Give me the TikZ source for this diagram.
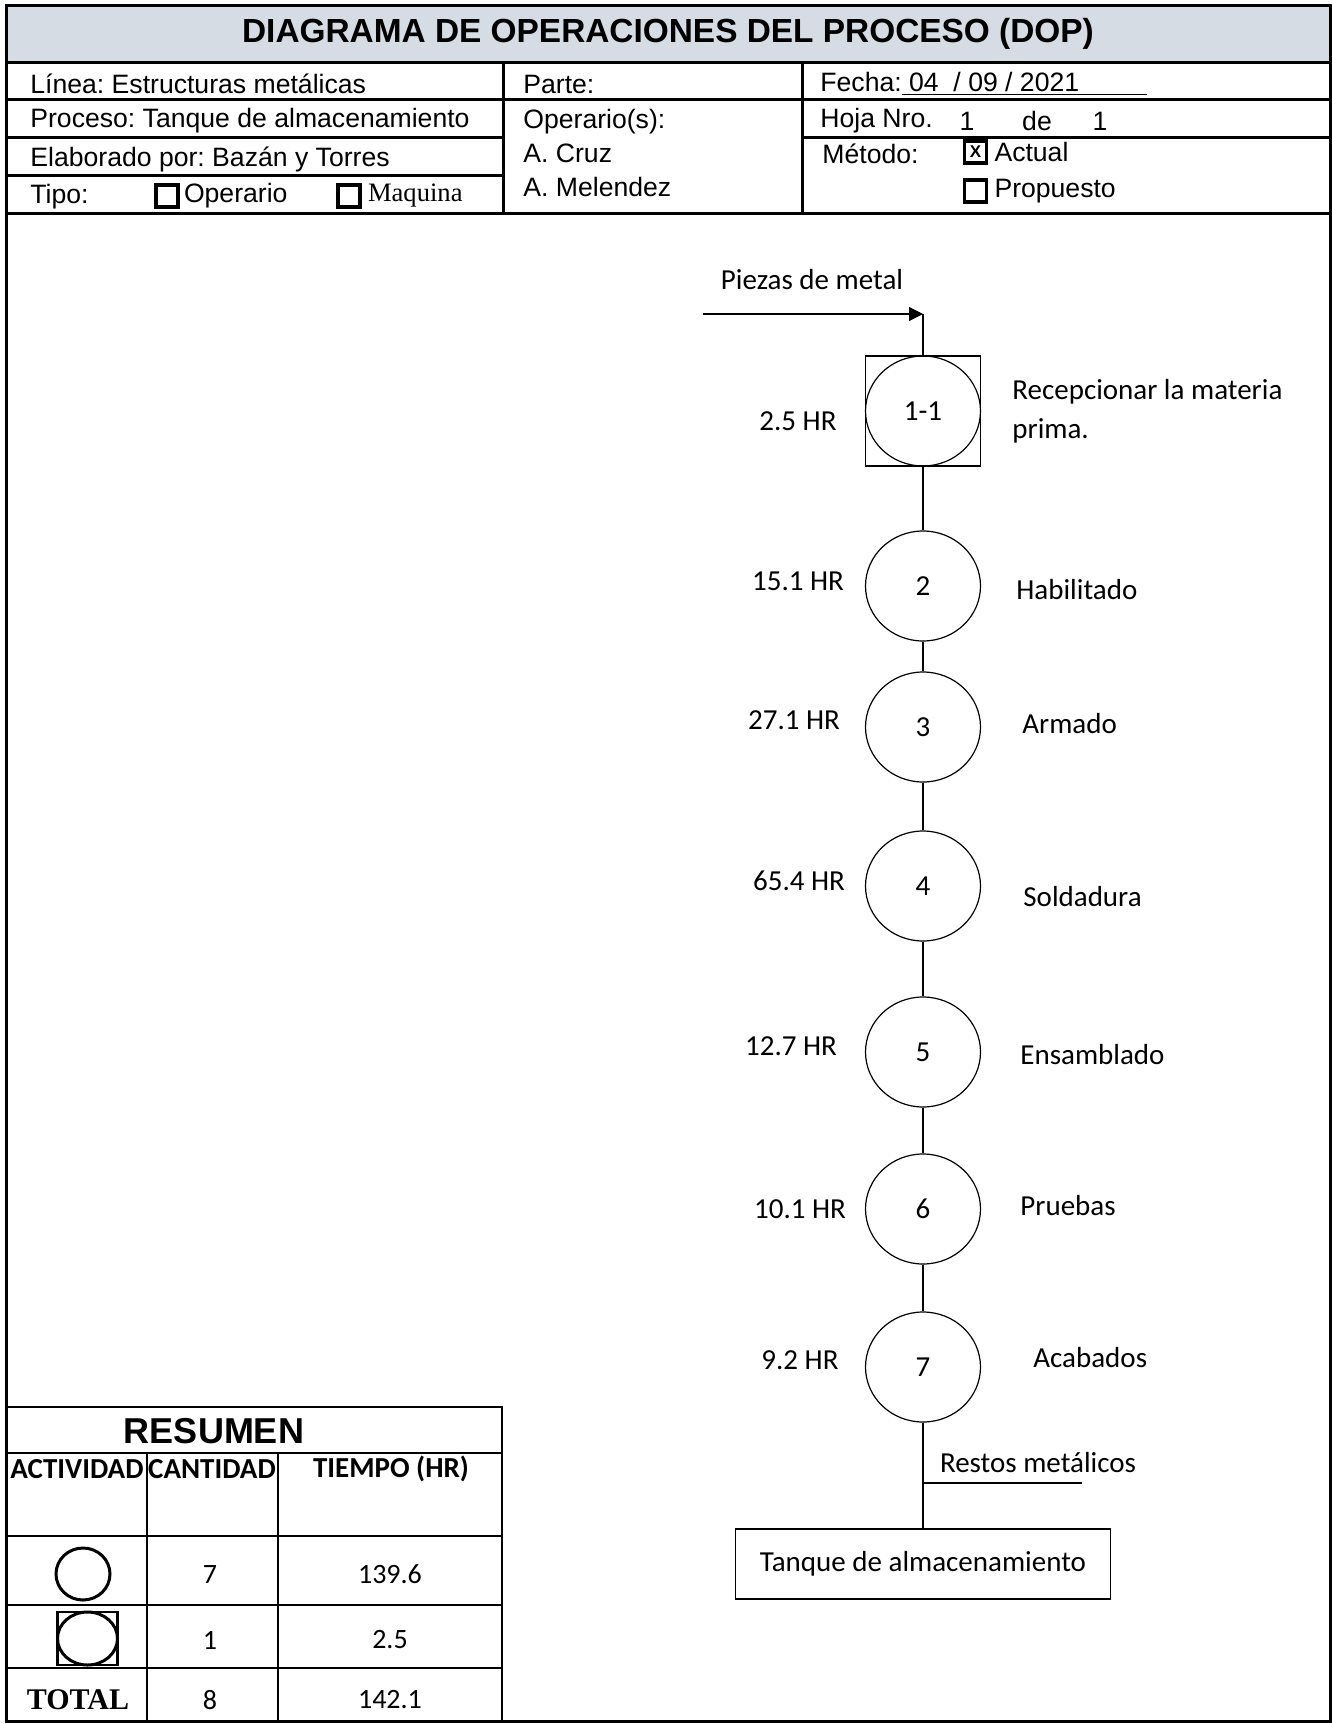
\documentclass[tikz,border=0pt]{standalone}
\usepackage{fontspec}
\setmainfont{Carlito}
\newfontfamily\arialfont{Liberation Sans}
\newfontfamily\timesfont{Liberation Serif}
\usetikzlibrary{arrows.meta,positioning,shapes.geometric}
\frenchspacing
\definecolor{hdrgray}{HTML}{D6DCE4}
\tikzset{
  outerframe/.style={draw=black, line width=1.5pt},
  tableline/.style={draw=black, line width=1.2pt},
  hdrtext/.style={anchor=west, inner sep=0pt, font=\arialfont\fontsize{13.3}{16}\selectfont},
  chkbox/.style={draw=black, line width=1.6pt, minimum size=11pt, inner sep=0pt},
  opcircle/.style={ellipse, draw=black, line width=0.6pt, minimum width=57.5pt, minimum height=55pt, inner sep=0pt, font=\fontsize{14.5}{17}\selectfont},
  opbox/.style={rectangle, draw=black, line width=0.6pt, minimum width=57.5pt, minimum height=55pt, inner sep=0pt},
  timelabel/.style={inner sep=0pt, font=\fontsize{14.5}{17}\selectfont},
  steplabel/.style={anchor=west, inner sep=0pt, align=left, font=\fontsize{14.5}{19.5}\selectfont},
  flowline/.style={draw=black, line width=0.6pt},
  arrow/.style={-{Triangle[length=7pt,width=7pt]}, flowline},
  endbox/.style={rectangle, draw=black, line width=0.7pt, minimum width=187.5pt, minimum height=35pt, font=\fontsize{14.5}{17}\selectfont},
  tabletext/.style={inner sep=0pt, font=\fontsize{14}{17}\selectfont},
  tablehead/.style={inner sep=0pt, font=\bfseries\fontsize{14.5}{17}\selectfont}
}

\begin{document}
\begin{tikzpicture}[x=0.5pt, y=-0.5pt]
  \useasboundingbox (0,0) rectangle (1332,1724);

  % header
  \fill[hdrgray] (6,5) rectangle (1330,62);
  \draw[outerframe] (6,5) rectangle (1330,1721);
  \draw[outerframe] (6,62) -- (1330,62);
  \draw[outerframe] (6,99) -- (1330,99);
  \draw[outerframe] (6,137) -- (503,137);
  \draw[outerframe] (6,175) -- (503,175);
  \draw[outerframe] (802,137) -- (1330,137);
  \draw[outerframe] (6,213) -- (1330,213);
  \draw[outerframe] (503,62) -- (503,213);
  \draw[outerframe] (802,62) -- (802,213);

  \node[font=\arialfont\bfseries\fontsize{16.7}{20}\selectfont] (title) at (668,34) {DIAGRAMA DE OPERACIONES DEL PROCESO (DOP)};

  \node[hdrtext] (linea) at (30,84) {Línea: Estructuras metálicas};
  \node[hdrtext] (proceso) at (30,121) {Proceso: Tanque de almacenamiento};
  \node[hdrtext] (elab) at (30,159) {Elaborado por: Bazán y Torres};
  \node[hdrtext] (tipo) at (30,197) {Tipo:};
  \node[chkbox] (chkop) at (167,196) {};
  \node[hdrtext, right=2pt of chkop] (operario) {Operario};
  \node[chkbox] (chkmaq) at (349,196) {};
  \node[hdrtext, font=\timesfont\fontsize{13.3}{16}\selectfont, right=3pt of chkmaq] (maquina) {Maquina};

  \node[hdrtext] (parte) at (523,84) {Parte:};
  \node[hdrtext] (operarios) at (523,122) {Operario(s):};
  \node[hdrtext] (cruz) at (523,153) {A. Cruz};
  \node[hdrtext] (melendez) at (523,187) {A. Melendez};

  \node[hdrtext] (fecha) at (820,84) {Fecha:\underline{\ 04\ \ / 09 / 2021\hspace{34pt}}};
  \node[hdrtext] (hoja) at (820,121) {Hoja Nro.};
  \node[hdrtext, anchor=center] (hojanum) at (967,121) {1};
  \node[hdrtext, anchor=center] (hojade) at (1037,121) {de};
  \node[hdrtext, anchor=center] (hojatot) at (1100,121) {1};
  \node[hdrtext] (metodo) at (822,154) {Método:};
  \node[chkbox, font=\arialfont\bfseries\fontsize{8.5}{9}\selectfont] (chkact) at (975.5,152) {X};
  \node[hdrtext, right=3pt of chkact] (actual) {Actual};
  \node[chkbox] (chkprop) at (975.5,191) {};
  \node[hdrtext, right=3pt of chkprop] (propuesto) {Propuesto};

  % flow
  \node[timelabel] (pieces) at (812,280) {Piezas de metal};
  \coordinate (pin) at (703,314);
  \coordinate (pturn) at (923,314);
  \node[opbox] (op1box) at (923,411) {};
  \node[opcircle] (op1) at (923,411) {1-1};
  \node[opcircle] (op2) at (923,586) {2};
  \node[opcircle] (op3) at (923,727) {3};
  \node[opcircle] (op4) at (923,886) {4};
  \node[opcircle] (op5) at (923,1052) {5};
  \node[opcircle] (op6) at (923,1209) {6};
  \node[opcircle] (op7) at (923,1367) {7};
  \node[endbox] (tank) at (923,1564) {Tanque de almacenamiento};

  \node[timelabel] (t1) at (798,421) {2.5 HR};
  \node[timelabel] (t2) at (798,581) {15.1 HR};
  \node[timelabel] (t3) at (794,720) {27.1 HR};
  \node[timelabel] (t4) at (799,881) {65.4 HR};
  \node[timelabel] (t5) at (791,1046) {12.7 HR};
  \node[timelabel] (t6) at (800,1209) {10.1 HR};
  \node[timelabel] (t7) at (800,1360) {9.2 HR};

  \node[steplabel] (s1) at (1012,411) {Recepcionar la materia\\prima.};
  \node[steplabel] (s2) at (1016,590) {Habilitado};
  \node[steplabel] (s3) at (1022,724) {Armado};
  \node[steplabel] (s4) at (1023,897) {Soldadura};
  \node[steplabel] (s5) at (1020,1055) {Ensamblado};
  \node[steplabel] (s6) at (1020,1206) {Pruebas};
  \node[steplabel] (s7) at (1033,1358) {Acabados};

  \draw[arrow] (pin) -- (pturn);
  \draw[flowline] (pturn) -- (op1box.north);
  \draw[flowline] (op1box.south) -- (op2.north);
  \draw[flowline] (op2) -- (op3);
  \draw[flowline] (op3) -- (op4);
  \draw[flowline] (op4) -- (op5);
  \draw[flowline] (op5) -- (op6);
  \draw[flowline] (op6) -- (op7);
  \draw[flowline] (op7) -- (tank);
  \coordinate (scrap) at (1082,1483);
  \draw[flowline] (scrap -| op7) -- (scrap);
  \node[timelabel] (restos) at (1038,1463) {Restos metálicos};

  % summary
  \draw[tableline] (6,1407) -- (502,1407) -- (502,1721);
  \draw[tableline] (6,1453) -- (502,1453);
  \draw[tableline] (6,1536) -- (502,1536);
  \draw[tableline] (6,1605) -- (502,1605);
  \draw[tableline] (6,1668) -- (502,1668);
  \draw[tableline] (147,1453) -- (147,1721);
  \draw[tableline] (278,1453) -- (278,1721);

  \node[font=\arialfont\bfseries\fontsize{18}{20}\selectfont] (resumen) at (214,1431) {RESUMEN};
  \node[tablehead] (hact) at (77,1469) {ACTIVIDAD};
  \node[tablehead] (hcant) at (212,1469) {CANTIDAD};
  \node[tablehead] (htiempo) at (391,1469) {TIEMPO (HR)};

  \node[ellipse, draw=black, line width=1.5pt, minimum width=27pt, minimum height=26pt, inner sep=0pt] (symop) at (83,1574) {};
  \node[rectangle, draw=black, line width=1.3pt, minimum width=30pt, minimum height=26.5pt, inner sep=0pt] (symbox) at (87.5,1638.5) {};
  \node[ellipse, draw=black, line width=1.5pt, minimum width=30pt, minimum height=26.5pt, inner sep=0pt] (symcomb) at (87.5,1638.5) {};

  \node[tabletext] (nop) at (210,1574) {7};
  \node[tabletext] (top) at (390,1574) {139.6};
  \node[tabletext] (ncomb) at (210,1640) {1};
  \node[tabletext] (tcomb) at (390,1640) {2.5};
  \node[tabletext, font=\timesfont\bfseries\fontsize{15}{17}\selectfont] (total) at (78,1700) {TOTAL};
  \node[tabletext] (ntotal) at (210,1700) {8};
  \node[tabletext] (ttotal) at (390,1700) {142.1};
\end{tikzpicture}
\end{document}
